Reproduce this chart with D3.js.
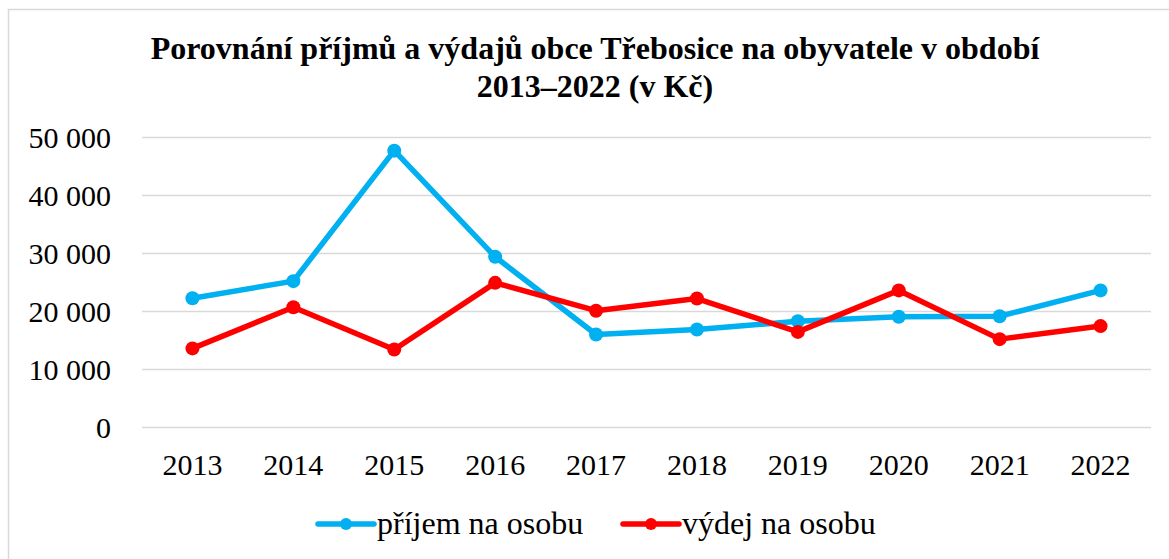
<!DOCTYPE html>
<html>
<head>
<meta charset="utf-8">
<script src="https://d3js.org/d3.v7.min.js"></script>
<style>
  body { margin: 0; background: #fff; }
  text { font-family: "Liberation Serif", "Times New Roman", serif; fill: #000; }
  .title { font-weight: bold; font-size: 32px; }
  .tick text { font-size: 30px; font-family: "Liberation Serif", "Times New Roman", serif; }
  .legend text { font-size: 32px; }
</style>
</head>
<body>
<div id="chart"></div>
<script>
const years = ['2013', '2014', '2015', '2016', '2017', '2018', '2019', '2020', '2021', '2022'];
const prijem = [22200, 25150, 47650, 29350, 15950, 16800, 18250, 19000, 19100, 23550];
const vydej = [13550, 20650, 13350, 24850, 20050, 22150, 16400, 23550, 15150, 17400];
const yTicks = [0, 10000, 20000, 30000, 40000, 50000];
const seriesNames = ['příjem na osobu', 'výdej na osobu'];
const titleLines = ['Porovnání příjmů a výdajů obce Třebosice na obyvatele v období', '2013–2022 (v Kč)'];

const width = 1169;
const height = 559;
const margins = { top: 137, bottom: 132, left: 142, right: 18 };
const colors = ['#00B0F0', '#FF0000'];

const svg = d3.select('#chart')
  .append('svg')
  .attr('width', width)
  .attr('height', height);

// chart area border (right and bottom edges fall off the picture)
svg.append('rect')
  .attr('x', 8.5)
  .attr('y', 9.5)
  .attr('width', 1180)
  .attr('height', 600)
  .style('fill', 'none')
  .style('stroke', '#d9d9d9')
  .style('stroke-width', 1.5);

const plotW = 1151 - margins.left;
const plotH = height - margins.top - margins.bottom;

const xScale = d3.scaleBand()
  .domain(years)
  .range([0, plotW]);

const yScale = d3.scaleLinear()
  .domain([0, 50000])
  .range([plotH, 0]);

const g = svg.append('g')
  .attr('transform', 'translate(' + margins.left + ',' + margins.top + ')');

const fmt = function(d) { return d3.format(',')(d).replace(/,/g, ' '); };

const yAxis = d3.axisLeft(yScale)
  .tickValues(yTicks)
  .tickSize(-plotW)
  .tickPadding(31)
  .tickFormat(fmt);

const yG = g.append('g')
  .attr('class', 'yAxis')
  .call(yAxis)
  .attr('font-family', null)
  .attr('font-size', null);
yG.select('.domain').remove();
yG.selectAll('.tick line')
  .style('stroke', '#d9d9d9')
  .style('stroke-width', 1.5);
yG.selectAll('.tick text').attr('dy', '0.34em');

const xAxis = d3.axisBottom(xScale)
  .tickSize(0)
  .tickPadding(27);

const xG = g.append('g')
  .attr('class', 'xAxis')
  .attr('transform', 'translate(0,' + plotH + ')')
  .call(xAxis)
  .attr('font-family', null)
  .attr('font-size', null);
xG.select('.domain').remove();

const series = [prijem, vydej];
const line = d3.line()
  .x(function(d, i) { return xScale(years[i]) + xScale.bandwidth() / 2; })
  .y(function(d) { return yScale(d); });

series.forEach(function(vals, s) {
  g.append('path')
    .attr('d', line(vals))
    .style('fill', 'none')
    .style('stroke', colors[s])
    .style('stroke-width', 5.5)
    .style('stroke-linejoin', 'round');
  g.selectAll('circle.s' + s)
    .data(vals)
    .enter()
    .append('circle')
    .attr('class', 's' + s)
    .attr('cx', function(d, i) { return xScale(years[i]) + xScale.bandwidth() / 2; })
    .attr('cy', function(d) { return yScale(d); })
    .attr('r', 7)
    .style('fill', colors[s]);
});

// title
svg.selectAll('text.title')
  .data(titleLines)
  .enter()
  .append('text')
  .attr('class', 'title')
  .attr('x', 595)
  .attr('y', function(d, i) { return 59 + i * 38; })
  .style('text-anchor', 'middle')
  .text(function(d) { return d; });

// legend
const legendX = [318, 623];
const legend = svg.append('g').attr('class', 'legend');
seriesNames.forEach(function(name, s) {
  const lg = legend.append('g').attr('transform', 'translate(' + legendX[s] + ',524)');
  lg.append('line')
    .attr('x1', 0).attr('x2', 56)
    .style('stroke', colors[s])
    .style('stroke-width', 5.5)
    .style('stroke-linecap', 'round');
  lg.append('circle')
    .attr('cx', 28).attr('r', 6)
    .style('fill', colors[s]);
  lg.append('text')
    .attr('x', 59)
    .attr('y', 10)
    .text(name);
});
</script>
</body>
</html>
